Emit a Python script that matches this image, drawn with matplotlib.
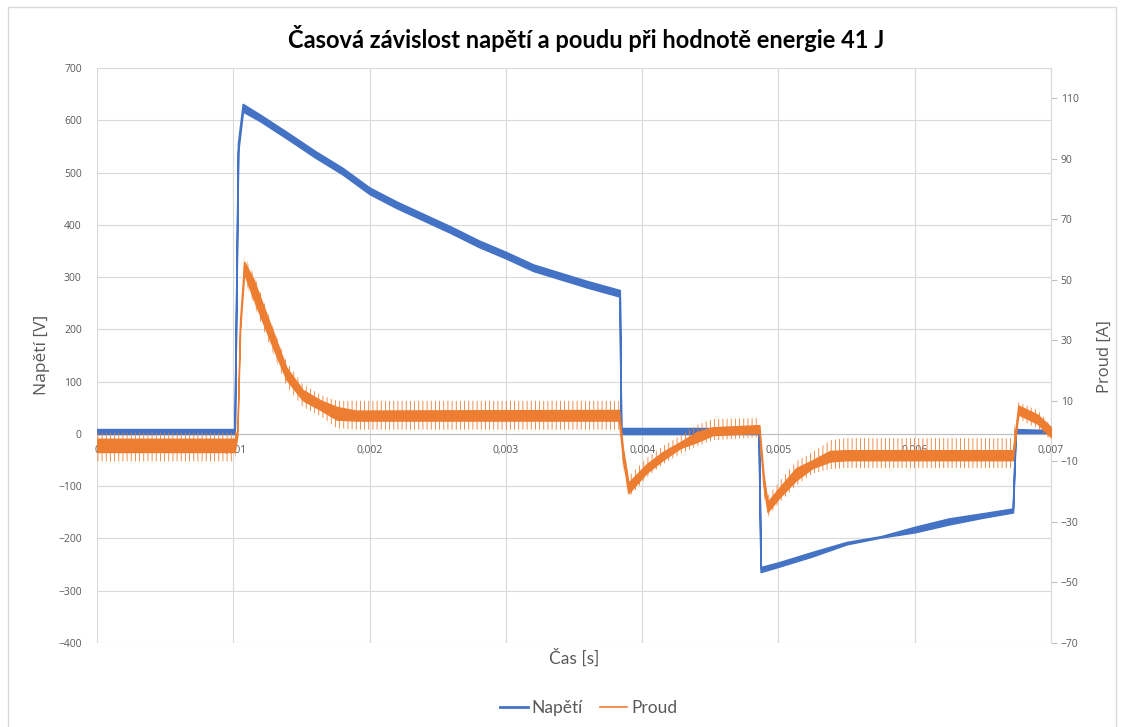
import matplotlib
matplotlib.use("Agg")
import matplotlib.pyplot as plt
from matplotlib.lines import Line2D
from matplotlib.patches import Rectangle

# ---------------- data ----------------
t_volt = [0.0, 0.00101, 0.001035, 0.00107, 0.0012, 0.0014, 0.0016, 0.0018,
          0.0020, 0.0022, 0.0024, 0.0026, 0.0028, 0.0030, 0.0032, 0.0034,
          0.0036, 0.003835, 0.003845, 0.004855, 0.00487, 0.0050, 0.00525,
          0.0055, 0.00575, 0.0060, 0.00625, 0.0065, 0.00672, 0.00674, 0.0070]
volt_low = [0, 0, 540, 617, 598, 564, 529, 497, 459, 432, 408, 384, 358, 336,
            312, 296, 280, 263, 0, 0, -264, -254, -234, -211, -198, -188,
            -173, -160, -150, 2, 2]
volt_high = [9, 9, 556, 631, 610, 576, 541, 509, 471, 444, 420, 396, 370,
             348, 324, 308, 292, 275, 11, 11, -255, -246, -226, -207, -196,
             -178, -162, -152, -143, 9, 7]

t_curr = [0.0, 0.00101, 0.00103, 0.00105, 0.00108, 0.00115, 0.00127, 0.00139,
          0.00151, 0.00164, 0.00176, 0.00190, 0.00383, 0.00386, 0.00390,
          0.00403, 0.00415, 0.00428, 0.00440, 0.00452, 0.00486, 0.00489,
          0.00492, 0.00501, 0.00513, 0.00525, 0.00538, 0.00550, 0.00672,
          0.00676, 0.00690, 0.00700]
curr_low = [-6.9, -6.9, -1.5, 33, 52, 43.5, 30, 17, 10.2, 7, 3.8, 3.5, 3.5,
            -10, -20.5, -13.9, -9.6, -5.6, -3.6, -1.3, -0.6, -18, -26.7,
            -21.8, -16.2, -12.2, -10, -9.6, -9.6, 5.5, 2.5, -2]
curr_high = [-2.5, -2.5, 0.5, 37, 56, 50, 35.5, 21, 13.6, 10.2, 8, 6.8, 7,
             -6, -17, -11, -6.9, -3.6, -0.3, 1.3, 2, -14, -23.4, -18.5,
             -12.2, -9.6, -6.5, -6.3, -6.3, 8.5, 5.5, 1.3]
curr_spike_low = [-10, -10, -3, 31, 50, 42, 28, 15, 8, 5, 1, 0.5, 0.5, -12,
                  -22, -15.5, -11, -7.5, -5, -3, -2, -20, -28.4, -23.5, -18,
                  -14, -12.5, -12.2, -12.2, 4, 1, -3]
curr_spike_high = [-0.5, -0.5, 1, 38, 58, 52, 37, 23, 15.5, 12, 10, 10, 10,
                   -4, -15, -9, -5, -1.5, 2, 4, 4.3, -12, -21.5, -16.5, -10,
                   -7, -3, -2.3, -2.3, 9.6, 7, 2]

x_ticks = [0, 0.001, 0.002, 0.003, 0.004, 0.005, 0.006, 0.007]
x_tick_labels = ["0", "0,001", "0,002", "0,003", "0,004", "0,005", "0,006", "0,007"]
v_ticks = [-400, -300, -200, -100, 0, 100, 200, 300, 400, 500, 600, 700]
i_ticks = [-70, -50, -30, -10, 10, 30, 50, 70, 90, 110]

title = "Časová závislost napětí a poudu při hodnotě energie 41 J"
series_names = ["Napětí", "Proud"]

# ---------------- style ----------------
BLUE = "#4472C4"
ORANGE = "#ED7D31"
GRID = "#D9D9D9"
TXT = "#595959"
CAL = ["Lato", "DejaVu Sans"]
SANS = ["Open Sans", "DejaVu Sans"]
plt.rcParams["hatch.linewidth"] = 0.6

W, H = 1123, 727
fig = plt.figure(figsize=(W / 100, H / 100), dpi=100)
fig.patches.append(Rectangle((8 / W, -0.01), (1116 - 8) / W, 1.01 - 7 / H,
                             transform=fig.transFigure, fill=False,
                             edgecolor=GRID, lw=1))

ax = fig.add_axes([97 / W, 1 - 643 / H, (1051 - 97) / W, (643 - 68) / H])
ax2 = ax.twinx()

ax.set_xlim(0, 0.007)
ax.set_ylim(-400, 700)
ax2.set_ylim(-70, 120)

# voltage
ax.fill_between(t_volt, volt_low, volt_high, facecolor=BLUE, edgecolor=BLUE,
                lw=1.3, zorder=3)

# current
ax2.fill_between(t_curr, curr_spike_low, curr_spike_high, facecolor="none",
                 edgecolor=ORANGE, hatch="||||", lw=0, zorder=3)
ax2.fill_between(t_curr, curr_low, curr_high, facecolor=ORANGE,
                 edgecolor=ORANGE, lw=1.0, zorder=4)

# axes styling
ax.set_xticks(x_ticks)
ax.set_xticklabels(x_tick_labels)
ax.set_yticks(v_ticks)
ax.grid(True, color=GRID, lw=0.8)
ax.set_axisbelow(True)
for s in ["top", "right", "left"]:
    ax.spines[s].set_visible(False)
ax.spines["bottom"].set_position(("data", 0))
ax.spines["bottom"].set_color("#BFBFBF")
ax.tick_params(axis="x", length=0, pad=8, labelsize=7.5, labelcolor=TXT)
ax.tick_params(axis="y", length=0, pad=11, labelsize=7.5, labelcolor=TXT)

ax2.set_yticks(i_ticks)
for s in ["top", "left", "bottom"]:
    ax2.spines[s].set_visible(False)
ax2.spines["right"].set_color(GRID)
ax2.tick_params(axis="y", length=4, color="#BFBFBF", pad=3, labelsize=7.5,
                labelcolor=TXT)

for lab in ax.get_xticklabels() + ax.get_yticklabels() + ax2.get_yticklabels():
    lab.set_family(SANS)

# texts
fig.text(0.522, 1 - 38 / H, title, ha="center", va="center", fontsize=17,
         fontweight="bold", family=CAL, color="black")
fig.text(42 / W, 1 - 355 / H, "Napětí [V]", rotation=90, ha="center",
         va="center", fontsize=12.5, color=TXT, family=SANS)
fig.text(1105 / W, 1 - 357 / H, "Proud [A]", rotation=90, ha="center",
         va="center", fontsize=12, color=TXT, family=SANS)
fig.text(574 / W, 1 - 658 / H, "Čas [s]", ha="center", va="center",
         fontsize=12.5, color=TXT, family=CAL)

handles = [Line2D([], [], color=BLUE, lw=2), Line2D([], [], color=ORANGE, lw=1.2)]
fig.legend(handles, series_names, loc="center", bbox_to_anchor=(0.524, 1 - 708 / H),
           ncol=2, frameon=False, handlelength=1.6, handletextpad=0.2,
           columnspacing=1.0, prop={"family": CAL, "size": 12.5},
           labelcolor=TXT)

fig.savefig("out.png", dpi=100)
